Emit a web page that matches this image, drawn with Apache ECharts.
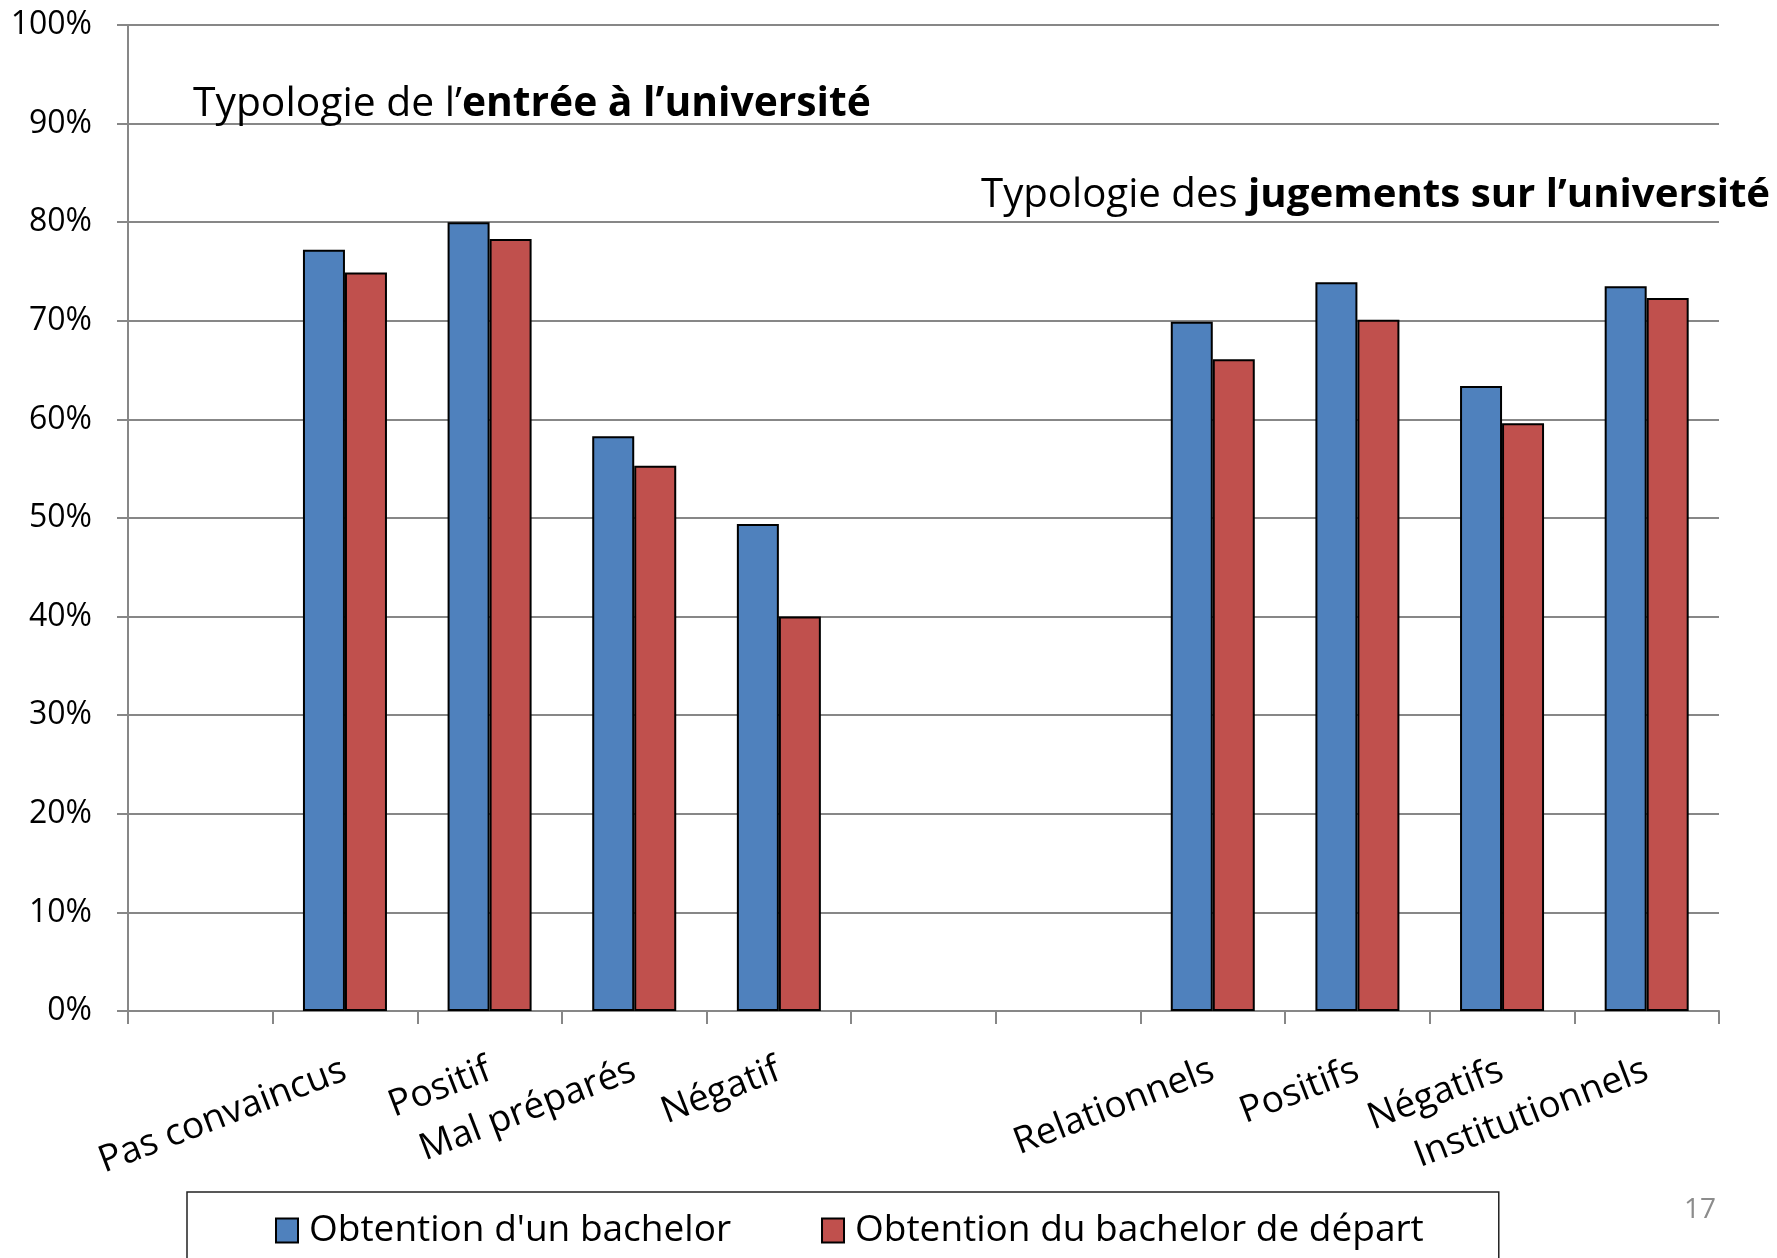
<!DOCTYPE html>
<html>
<head>
<meta charset="utf-8">
<script src="https://cdn.jsdelivr.net/npm/echarts@6/dist/echarts.min.js"></script>
<style>
  html, body { margin: 0; padding: 0; background: #fff; }
  #chart { width: 1777px; height: 1258px; }
</style>
</head>
<body>
<div id="chart"></div>
<script>
// categories (empty slots keep the gaps of the original slide)
const categories = ['', 'Pas convaincus', 'Positif', 'Mal préparés', 'Négatif', '', '',
  'Relationnels', 'Positifs', 'Négatifs', 'Institutionnels']
const seriesNames = ["Obtention d'un bachelor", 'Obtention du bachelor de départ']
const bachelorAny = [null, 77.2, 80.0, 58.3, 49.4, null, null, 69.9, 73.9, 63.4, 73.5]
const bachelorStart = [null, 74.9, 78.3, 55.3, 40.0, null, null, 66.1, 70.1, 59.6, 72.3]
const colors = ['#4F81BD', '#C0504D']

const font = '"Open Sans", sans-serif'
const gray = '#878787'

const chart = echarts.init(document.getElementById('chart'))

const titleRich = (size) => ({
  n: { fontFamily: font, fontSize: size, fontWeight: 'normal', color: '#000' },
  b: { fontFamily: font, fontSize: size, fontWeight: 'bold', color: '#000' },
})

chart.setOption({
  animation: false,
  color: colors,
  textStyle: { fontFamily: font },
  title: [
    {
      left: 193,
      top: 84,
      padding: 0,
      text: '{n|Typologie de l’}{b|entrée à l’université}',
      textStyle: { rich: titleRich(40.8) },
    },
    {
      left: 981,
      top: 176,
      padding: 0,
      text: '{n|Typologie des }{b|jugements sur l’université}',
      textStyle: { rich: titleRich(40.2) },
    },
  ],
  grid: { left: 128, right: 58, top: 25, bottom: 247 },
  legend: {
    left: 187,
    top: 1192,
    padding: [20, 75, 40, 88],
    itemGap: 90,
    itemWidth: 22,
    itemHeight: 24,
    icon: 'rect',
    borderColor: '#222',
    borderWidth: 1.5,
    borderRadius: 0,
    textStyle: { fontFamily: font, fontSize: 37, color: '#000', padding: [0, 0, 0, 6] },
    data: seriesNames.map((name) => ({
      name,
      itemStyle: { borderColor: '#000', borderWidth: 2 },
    })),
  },
  xAxis: {
    type: 'category',
    data: categories,
    axisLine: { lineStyle: { color: gray, width: 2 } },
    axisTick: { show: true, length: 13, lineStyle: { color: gray, width: 2 } },
    axisLabel: {
      interval: 0,
      rotate: 21,
      margin: 58,
      fontFamily: font,
      fontSize: 37,
      color: '#000',
    },
  },
  yAxis: {
    type: 'value',
    min: 0,
    max: 100,
    interval: 10,
    axisLine: { show: true, lineStyle: { color: gray, width: 2 } },
    axisTick: { show: true, length: 11, lineStyle: { color: gray, width: 2 } },
    splitLine: { lineStyle: { color: gray, width: 2 } },
    axisLabel: {
      formatter: '{value}%',
      margin: 36,
      fontFamily: font,
      fontSize: 32,
      color: '#000',
    },
  },
  series: [
    {
      name: seriesNames[0],
      type: 'bar',
      data: bachelorAny,
      barWidth: 42,
      barGap: '0%',
      itemStyle: { color: colors[0], borderColor: '#000', borderWidth: 2 },
    },
    {
      name: seriesNames[1],
      type: 'bar',
      data: bachelorStart,
      barWidth: 42,
      barGap: '0%',
      itemStyle: { color: colors[1], borderColor: '#000', borderWidth: 2 },
    },
  ],
  graphic: [
    {
      type: 'text',
      left: 1684,
      top: 1196,
      style: { text: '17', fontFamily: font, fontSize: 28, fill: '#8c8c8c' },
    },
  ],
})
</script>
</body>
</html>
